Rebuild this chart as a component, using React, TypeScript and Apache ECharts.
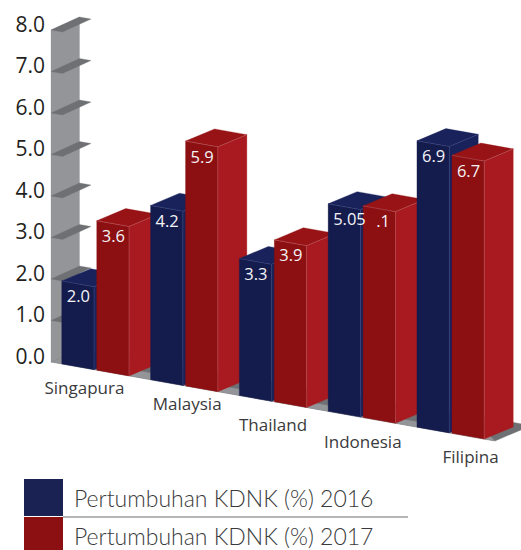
import React, { useEffect, useRef } from "react";
import * as echarts from "echarts";

const categories = ["Singapura", "Malaysia", "Thailand", "Indonesia", "Filipina"];
const values2016 = [2.0, 4.2, 3.3, 5.0, 6.9];
const values2017 = [3.6, 5.9, 3.9, 5.1, 6.7];
const labels2016 = ["2.0", "4.2", "3.3", "5.05", "6.9"];
const labels2017 = ["3.6", "5.9", "3.9", ".1", "6.7"];
const yTicks = [0, 1, 2, 3, 4, 5, 6, 7, 8];
const seriesNames = ["Pertumbuhan KDNK (%) 2016", "Pertumbuhan KDNK (%) 2017"];

// layout constants (not data)
const GRID = { left: 51, top: 30, width: 444, height: 332 };
const SHEAR = 0.178;
const DEPTH = [29, -12.2];
const BAR_WIDTH = 0.364;
const catLabelTop = [15, 31, 52, 69, 84];
const catLabelDx = [-11, 3, 0, 1, 20];
const labelDx2017 = [0, 0, 0, 8, 0];

function proj(api: any, cat: number, v: number, frac: number) {
  const c = api.coord([cat, v]);
  const band = api.size([1, 0])[0];
  const x = c[0] + band * frac;
  const left = api.coord([0, 0])[0] - band / 2;
  return [x, c[1] + SHEAR * (x - left)];
}

function poly(points: number[][], fill: string, z2: number) {
  return { type: "polygon", z2, shape: { points }, style: { fill, stroke: fill, lineWidth: 0.3 } };
}

function barSeries(name: string, values: number[], labels: string[], frac: number, pal: any, order: number, dx: number[]) {
  return {
    type: "custom",
    name,
    coordinateSystem: "cartesian2d",
    itemStyle: { color: pal.legend },
    encode: { x: 0, y: 1 },
    data: values.map((v, i) => [i, v]),
    renderItem: (_: any, api: any) => {
      const i = api.value(0);
      const v = api.value(1);
      const z = 10 + i * 10 + order;
      const fl = proj(api, i, v, frac);
      const fr = proj(api, i, v, frac + BAR_WIDTH);
      const bl0 = proj(api, i, 0, frac);
      const br0 = proj(api, i, 0, frac + BAR_WIDTH);
      const add = (p: number[]) => [p[0] + DEPTH[0], p[1] + DEPTH[1]];
      return {
        type: "group",
        children: [
          poly([fr, add(fr), add(br0), br0], pal.side, z),
          poly([fl, fr, add(fr), add(fl)], pal.top, z),
          poly([fl, fr, br0, bl0], pal.front, z),
          {
            type: "polyline",
            z2: z,
            shape: { points: [fl, fr, add(fr)] },
            style: { fill: "none", stroke: pal.edge, lineWidth: 0.6 },
          },
          {
            type: "line",
            z2: z,
            shape: { x1: fr[0], y1: fr[1], x2: br0[0], y2: br0[1] },
            style: { stroke: pal.edge, lineWidth: 0.6 },
          },
          {
            type: "text",
            z2: 100,
            x: fl[0] + 5 + dx[i],
            y: fl[1] + 15,
            style: {
              text: labels[i],
              fill: "#f4f4f6",
              font: '16.5px "Open Sans"',
              textAlign: "left",
              textVerticalAlign: "middle",
            },
          },
        ],
      };
    },
  };
}

const wallSeries = {
  type: "custom",
  coordinateSystem: "cartesian2d",
  silent: true,
  encode: { x: 0, y: 1 },
  data: yTicks.map((t) => [0, t]),
  renderItem: (_: any, api: any) => {
    const t = api.value(1);
    const o = proj(api, 0, t, -0.5);
    const shelf = poly(
      [o, [o[0] + 28.5, o[1] - 13], [o[0] + 40, o[1] - 11], [o[0] + 11.5, o[1] + 2]],
      "#6f7073",
      2,
    );
    if (t !== 0) return { type: "group", children: [shelf] };
    const top = proj(api, 0, 8, -0.5);
    const end = proj(api, categories.length - 1, 0, 0.5);
    const wall = poly(
      [top, [top[0] + 28.5, top[1] - 13], [o[0] + 28.5, o[1] - 13], o],
      "#939598",
      1,
    );
    const floor = poly(
      [o, end, [end[0] + 28, end[1] - 12], [end[0] + 28, end[1] - 17], [o[0] + 28.5, o[1] - 13]],
      "#6f7073",
      3,
    );
    const floorFront = poly([o, end, [end[0] - 6, end[1] - 6], [o[0] + 12, o[1] - 5]], "#939598", 4);
    return { type: "group", children: [wall, floor, floorFront] };
  },
};

export default function App() {
  const ref = useRef<HTMLDivElement>(null);
  useEffect(() => {
    const chart = echarts.init(ref.current!, undefined, { renderer: "svg" });
    chart.setOption({
      animation: false,
      backgroundColor: "#ffffff",
      grid: { ...GRID },
      xAxis: {
        type: "category",
        data: categories.map((c, i) => ({
          value: c,
          textStyle: {
            padding: [catLabelTop[i], Math.max(0, -catLabelDx[i] * 2), 0, Math.max(0, catLabelDx[i] * 2)],
          },
        })),
        axisLine: { show: false },
        axisTick: { show: false },
        axisLabel: {
          interval: 0,
          margin: 2,
          verticalAlign: "top",
          fontFamily: "Open Sans",
          fontSize: 17,
          color: "#3a3a3c",
        },
      },
      yAxis: {
        type: "value",
        min: 0,
        max: 8,
        interval: 1,
        splitLine: { show: false },
        axisLine: { show: false },
        axisTick: { show: false },
        axisLabel: {
          margin: 6,
          fontFamily: "Open Sans",
          fontSize: 21,
          color: "#231f20",
          formatter: (v: number) => v.toFixed(1),
          verticalAlign: "bottom",
          lineHeight: 13,
        },
      },
      legend: {
        data: [
          { name: seriesNames[0] },
          { name: seriesNames[1], textStyle: { padding: [2, 0, 0, 6] } },
        ],
        orient: "vertical",
        left: 24,
        top: 479,
        height: 90,
        padding: 0,
        itemWidth: 39,
        itemHeight: 37,
        itemGap: 1,
        icon: "rect",
        selectedMode: false,
        textStyle: { fontFamily: "Lato", fontWeight: 300, fontSize: 23, color: "#3a3a3c", padding: [0, 0, 0, 6] },
      },
      graphic: [
        { type: "line", shape: { x1: 63, y1: 517, x2: 408, y2: 517 }, style: { stroke: "#6d6e71", lineWidth: 1 }, z: 10 },
      ],
      series: [
        wallSeries,
        barSeries(seriesNames[0], values2016, labels2016, -0.379, { legend: "#1a2254", front: "#141c4e", side: "#19225a", top: "#19225a", edge: "#3d4780" }, 0, [0, 0, 0, 0, 0]),
        barSeries(seriesNames[1], values2017, labels2017, 0.015, { legend: "#8c0f12", front: "#8c0f12", side: "#a81a1f", top: "#971316", edge: "#c0585c" }, 1, labelDx2017),
      ],
    });
    return () => chart.dispose();
  }, []);
  return <div ref={ref} style={{ position: "absolute", left: 0, top: 0, width: 521, height: 550 }} />;
}
